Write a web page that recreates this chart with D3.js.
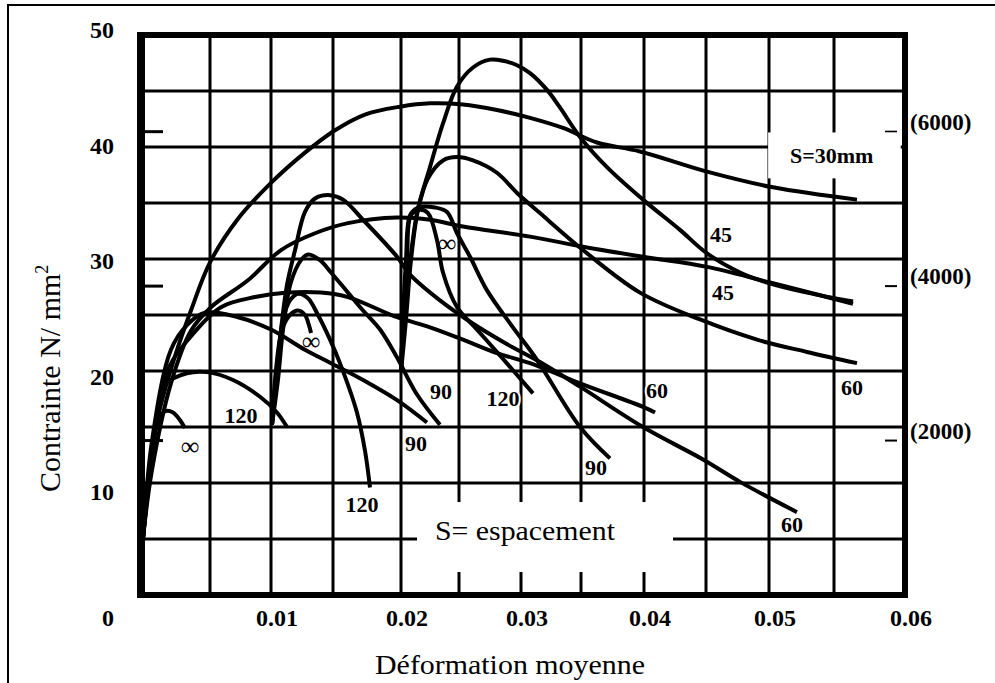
<!DOCTYPE html>
<html>
<head>
<meta charset="utf-8">
<script src="https://cdn.jsdelivr.net/npm/d3@7"></script>
<style>
  body { margin: 0; background: #fff; }
  svg { display: block; }
  text { font-family: "Liberation Serif", "Times New Roman", serif; fill: #000; }
</style>
</head>
<body>
<svg width="995" height="683"></svg>
<script>
// tick values
const strainTicks = [0.01, 0.02, 0.03, 0.04, 0.05, 0.06];
const stressTicks = [10, 20, 30, 40, 50];
const psiTicks = [2000, 4000, 6000];

// curves, [strain, stress N/mm2]
// first family, loaded from the origin
const s30 = [[0.00014,5.0],[0.00065,11.2],[0.00123,15.9],[0.00246,21.3],[0.00362,25.4],[0.005,29.7],[0.0073,33.6],[0.01,36.8],[0.01274,39.5],[0.01515,41.5],[0.01735,42.9],[0.01993,43.6],[0.0225,43.9],[0.02532,43.8],[0.02806,43.3],[0.03075,42.6],[0.0335,41.7],[0.03627,40.4],[0.03968,39.6],[0.04508,37.8],[0.05031,36.4],[0.05662,35.3]];
const g1s45 = [[0.00014,5.0],[0.0008,11.2],[0.00217,18.9],[0.00362,23.6],[0.00508,25.7],[0.00811,28.1],[0.01081,30.8],[0.01355,32.3],[0.0161,33.2],[0.01971,33.7],[0.0225,33.5],[0.02532,32.9],[0.03075,32.0],[0.03516,31.1],[0.03992,30.2],[0.04508,29.3],[0.05008,27.9],[0.05634,26.0]];
const g1s60 = [[0.00014,5.0],[0.00058,10.3],[0.00123,16.5],[0.0021,20.5],[0.00341,22.8],[0.0059,25.7],[0.00869,26.6],[0.01137,27.0],[0.01403,27.0],[0.0161,26.6],[0.01971,24.8],[0.0225,23.9],[0.02532,22.8],[0.02806,21.6],[0.03075,20.7],[0.03492,18.9],[0.03992,16.8],[0.04089,16.3]];
const g1s90 = [[0.00014,5.0],[0.0008,13.8],[0.00217,21.9],[0.00333,24.1],[0.00464,25.2],[0.0073,24.8],[0.01,23.7],[0.01274,21.9],[0.01484,20.7],[0.01721,19.2],[0.01971,17.4],[0.02224,15.4]];
const g1s120 = [[0.00014,5.0],[0.0008,12.9],[0.00138,17.0],[0.00188,18.9],[0.00333,19.8],[0.00478,19.9],[0.00689,19.2],[0.0091,17.7],[0.01048,16.3],[0.01129,15.0]];
const g1Inf = [[0.00014,5.0],[0.00065,11.2],[0.00116,15.2],[0.00174,16.4],[0.00232,16.3],[0.00283,15.6],[0.00319,14.9]];
// second family, starting at 0.01
const g2s60 = [[0.01008,15.2],[0.0104,19.2],[0.01081,23.7],[0.01129,27.7],[0.01194,30.8],[0.01274,34.2],[0.01355,35.4],[0.01476,35.7],[0.01574,35.3],[0.01721,33.5],[0.01971,30.2],[0.02078,28.6],[0.02336,26.3],[0.02589,24.4],[0.02871,22.5],[0.03158,20.8],[0.03492,18.6],[0.03992,15.0],[0.04476,12.1],[0.0477,10.1],[0.05215,7.4]];
const g2s90 = [[0.01008,15.2],[0.01056,19.2],[0.01097,23.7],[0.0116,27.9],[0.01242,29.9],[0.01298,30.4],[0.01395,29.9],[0.01484,28.8],[0.0161,27.0],[0.01721,25.4],[0.01846,23.7],[0.01971,21.2],[0.02138,17.9],[0.02336,15.2]];
const g2s120 = [[0.01008,15.2],[0.01048,20.1],[0.01097,24.6],[0.01153,26.3],[0.01218,26.9],[0.01298,26.5],[0.01379,25.0],[0.01476,22.8],[0.01551,20.7],[0.01676,16.3],[0.01735,12.9],[0.01772,9.6]];
const g2Inf = [[0.01008,15.2],[0.0104,20.1],[0.01089,23.7],[0.01153,25.0],[0.01218,25.4],[0.01274,25.0],[0.01306,24.1],[0.01323,23.4]];
// third family, starting at 0.02
const g3s45 = [[0.02,19.9],[0.02017,23.7],[0.02052,27.2],[0.02138,34.1],[0.0225,38.2],[0.02362,42.1],[0.02483,45.4],[0.02613,47.1],[0.0275,47.8],[0.02855,47.7],[0.02968,47.3],[0.03075,46.6],[0.03217,45.1],[0.0332,43.6],[0.03492,40.9],[0.03706,38.2],[0.03992,35.3],[0.0429,32.6],[0.04508,30.5],[0.0477,28.8],[0.04984,27.9],[0.05292,27.0],[0.05634,26.2]];
const g3s60 = [[0.02,19.9],[0.02043,24.6],[0.02086,29.9],[0.02147,34.4],[0.02233,37.2],[0.02362,38.8],[0.02483,39.1],[0.02613,38.8],[0.02806,37.7],[0.02968,35.9],[0.03158,34.1],[0.03516,30.8],[0.03968,27.0],[0.04452,24.6],[0.04905,22.8],[0.05292,21.7],[0.05662,20.7]];
const g3s90 = [[0.02,19.9],[0.02017,24.6],[0.02043,29.9],[0.02078,33.9],[0.02147,34.6],[0.02293,34.6],[0.02397,34.2],[0.02483,32.3],[0.02589,30.2],[0.02726,27.2],[0.02935,23.9],[0.03133,21.0],[0.03492,15.0],[0.0373,12.2]];
const g3s120 = [[0.02,19.9],[0.0202,24.6],[0.02052,29.9],[0.02086,33.9],[0.02164,34.4],[0.02233,34.1],[0.0231,31.7],[0.02362,28.8],[0.02483,25.7],[0.02645,23.7],[0.02806,21.7],[0.031,18.0]];

const curves = [s30, g1s45, g1s60, g1s90, g1s120, g1Inf, g2s60, g2s90, g2s120, g2Inf, g3s45, g3s60, g3s90, g3s120];

// spacing labels at the curve ends (strain, stress of baseline)
const spacingLabels = [
  { text: "45", strain: 0.04619, stress: 31.5 },
  { text: "45", strain: 0.04635, stress: 26.3 },
  { text: "60", strain: 0.05627, stress: 17.9 },
  { text: "60", strain: 0.05177, stress: 5.6 },
  { text: "60", strain: 0.04105, stress: 17.6 },
  { text: "90", strain: 0.03619, stress: 10.7 },
  { text: "120", strain: 0.02855, stress: 16.9 },
  { text: "90", strain: 0.02345, stress: 17.5 },
  { text: "90", strain: 0.02129, stress: 12.9 },
  { text: "120", strain: 0.01713, stress: 7.4 },
  { text: "120", strain: 0.00754, stress: 15.4 }
];
const infLabels = [
  { strain: 0.00355, stress: 12.5 },
  { strain: 0.01323, stress: 21.9 },
  { strain: 0.02397, stress: 30.6 }
];

const svg = d3.select("svg");

// the scanned grid is a little uneven, the scale follows it
const x = d3.scaleLinear()
  .domain(d3.range(13).map((i) => i * 0.005))
  .range([141, 210, 271, 333, 401, 459, 521, 581, 644, 706, 769, 834, 905]);
const y = d3.scaleLinear().domain([0, 50]).range([595, 35]);
const psi = d3.scaleLinear().domain([0, 50 / 0.00689476]).range([595, 35]);
const yLab = d3.scaleLinear().domain([10, 50]).range([500, 38]);

// outer border of the figure
svg.append("path")
  .attr("d", "M8,683V5H995")
  .attr("fill", "none")
  .attr("stroke", "#000")
  .attr("stroke-width", 2);

const g = svg.append("g");

g.selectAll(".vgrid")
  .data(d3.range(1, 12).map((i) => i * 0.005))
  .join("line")
  .attr("class", "vgrid")
  .attr("x1", (d) => x(d))
  .attr("x2", (d) => x(d))
  .attr("y1", y(0))
  .attr("y2", y(50))
  .attr("stroke", "#000")
  .attr("stroke-width", 3);

g.selectAll(".hgrid")
  .data(d3.range(5, 50, 5))
  .join("line")
  .attr("class", "hgrid")
  .attr("x1", x(0))
  .attr("x2", x(0.06))
  .attr("y1", (d) => y(d))
  .attr("y2", (d) => y(d))
  .attr("stroke", "#000")
  .attr("stroke-width", 3);

g.append("rect")
  .attr("x", x(0))
  .attr("y", y(50))
  .attr("width", x(0.06) - x(0))
  .attr("height", y(0) - y(50))
  .attr("fill", "none")
  .attr("stroke", "#000")
  .attr("stroke-width", 6);

// the left edge of the frame is heavier on the scan
g.append("line")
  .attr("x1", x(0))
  .attr("x2", x(0))
  .attr("y1", y(50) - 3)
  .attr("y2", y(0) + 3)
  .attr("stroke", "#000")
  .attr("stroke-width", 8);

// small psi marks inside the frame on both sides
g.selectAll(".psiL")
  .data(psiTicks)
  .join("line")
  .attr("x1", x(0) + 4)
  .attr("x2", x(0) + 22)
  .attr("y1", (d) => psi(d))
  .attr("y2", (d) => psi(d))
  .attr("stroke", "#000")
  .attr("stroke-width", 3);

g.selectAll(".psiR")
  .data(psiTicks)
  .join("line")
  .attr("x1", x(0.06) - 20)
  .attr("x2", x(0.06) - 8)
  .attr("y1", (d) => psi(d))
  .attr("y2", (d) => psi(d))
  .attr("stroke", "#000")
  .attr("stroke-width", 2);

// white boxes of the two notes
g.append("rect")
  .attr("x", x(0.04993))
  .attr("y", y(41.3))
  .attr("width", x(0.0597) - x(0.04993))
  .attr("height", y(37.2) - y(41.3))
  .attr("fill", "#fff");

g.append("rect")
  .attr("x", x(0.02138))
  .attr("y", y(8.3))
  .attr("width", x(0.04234) - x(0.02138))
  .attr("height", y(2.05) - y(8.3))
  .attr("fill", "#fff");

const line = d3.line()
  .x((d) => x(d[0]))
  .y((d) => y(d[1]))
  .curve(d3.curveCatmullRom.alpha(0.5));

g.selectAll(".curve")
  .data(curves)
  .join("path")
  .attr("class", "curve")
  .attr("d", line)
  .attr("fill", "none")
  .attr("stroke", "#000")
  .attr("stroke-width", 4)
  .attr("stroke-linejoin", "round");

// labels on the curves
g.selectAll(".slab")
  .data(spacingLabels)
  .join("text")
  .attr("class", "slab")
  .attr("x", (d) => x(d.strain))
  .attr("y", (d) => y(d.stress))
  .attr("text-anchor", "middle")
  .attr("font-size", 22)
  .attr("font-weight", "bold")
  .attr("stroke", "#fff")
  .attr("stroke-width", 4)
  .attr("paint-order", "stroke")
  .text((d) => d.text);

g.selectAll(".inf")
  .data(infLabels)
  .join("text")
  .attr("class", "inf")
  .attr("x", (d) => x(d.strain))
  .attr("y", (d) => y(d.stress))
  .attr("text-anchor", "middle")
  .attr("font-size", 26)
  .text("\u221E");

g.append("text")
  .attr("x", x(0.05482))
  .attr("y", y(38.6))
  .attr("text-anchor", "middle")
  .attr("font-size", 22)
  .attr("font-weight", "bold")
  .text("S=30mm");

g.append("text")
  .attr("x", x(0.02293))
  .attr("y", y(4.9))
  .attr("font-size", 28)
  .attr("textLength", 180)
  .attr("lengthAdjust", "spacingAndGlyphs")
  .text("S= espacement");

// axis tick labels
svg.selectAll(".xlab")
  .data(strainTicks)
  .join("text")
  .attr("class", "xlab")
  .attr("x", (d) => x(d) + 6)
  .attr("y", 626)
  .attr("text-anchor", "middle")
  .attr("font-size", 24)
  .attr("font-weight", "bold")
  .text((d) => d3.format(".2f")(d));

svg.append("text")
  .attr("x", 114)
  .attr("y", 626)
  .attr("text-anchor", "end")
  .attr("font-size", 24)
  .attr("font-weight", "bold")
  .text("0");

svg.selectAll(".ylab")
  .data(stressTicks)
  .join("text")
  .attr("class", "ylab")
  .attr("x", 114)
  .attr("y", (d) => yLab(d))
  .attr("text-anchor", "end")
  .attr("font-size", 24)
  .attr("font-weight", "bold")
  .text((d) => d);

svg.selectAll(".psilab")
  .data(psiTicks)
  .join("text")
  .attr("class", "psilab")
  .attr("x", 910)
  .attr("y", (d) => psi(d) - 2)
  .attr("font-size", 23)
  .attr("font-weight", "bold")
  .text((d) => `(${d})`);

// axis titles
svg.append("text")
  .attr("x", 375)
  .attr("y", 674)
  .attr("font-size", 27)
  .attr("textLength", 270)
  .attr("lengthAdjust", "spacingAndGlyphs")
  .text("Déformation moyenne");

const yTitle = svg.append("text")
  .attr("transform", "translate(60,492) rotate(-90)")
  .attr("font-size", 30);
yTitle.append("tspan").text("Contrainte N/ mm");
yTitle.append("tspan").attr("dy", -12).attr("font-size", 18).text("2");
</script>
</body>
</html>
